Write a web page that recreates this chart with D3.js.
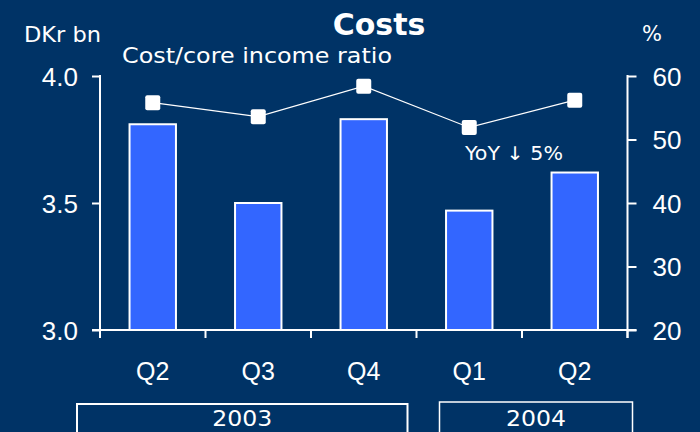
<!DOCTYPE html>
<html><head><meta charset="utf-8">
<script src="https://cdn.jsdelivr.net/npm/d3@7"></script>
<style>
html,body{margin:0;padding:0;background:#003366;}
svg{display:block;font-family:"DejaVu Sans",sans-serif;}
</style></head>
<body>
<svg id="c" width="700" height="432"></svg>
<script>
// ---- data ----
const quarters = ["Q2", "Q3", "Q4", "Q1", "Q2 "];
const quarterLabels = ["Q2", "Q3", "Q4", "Q1", "Q2"];
const costs = [3.81, 3.50, 3.83, 3.47, 3.62];          // DKr bn (bars)
const costIncomeRatio = [55.8, 53.6, 58.4, 51.9, 56.2]; // % (line)
const leftTicks = [3.0, 3.5, 4.0];
const rightTicks = [20, 30, 40, 50, 60];
const years = ["2003", "2004"];
const yearCounts = [3, 2];

(function () {
const W = 700, H = 432;
const bg = "#003366", barFill = "#3366ff", white = "#ffffff";
const svg = d3.select("#c");
svg.append("rect").attr("width", W).attr("height", H).attr("fill", bg);

const pL = 100, pR = 627.5, pT = 76, pB = 330;
const x = d3.scaleBand().domain(quarters).range([pL, pR]).paddingInner(0).paddingOuter(0);
const yL = d3.scaleLinear().domain([3.0, 4.0]).range([pB, pT]);
const yR = d3.scaleLinear().domain([20, 60]).range([pB, pT]);

// bars
const bw = x.bandwidth() * 0.44;
svg.append("g").selectAll("rect").data(costs).join("rect")
  .attr("x", (d, i) => x(quarters[i]) + (x.bandwidth() - bw) / 2)
  .attr("y", d => yL(d))
  .attr("width", bw)
  .attr("height", d => yL(3.0) - yL(d))
  .attr("fill", barFill).attr("stroke", white).attr("stroke-width", 2);

// left axis
const gL = svg.append("g").attr("transform", `translate(${pL},0)`)
  .call(d3.axisLeft(yL).tickValues(leftTicks).tickFormat(d3.format(".1f")).tickSize(8).tickPadding(14));
gL.select(".domain").remove();
gL.selectAll("line").attr("stroke", white).attr("stroke-width", 2);
gL.selectAll("text").attr("fill", white).attr("font-size", 26).attr("dy", "0.36em");
svg.append("line").attr("x1", pL).attr("x2", pL).attr("y1", yL(4.0) - 1).attr("y2", pB + 8)
  .attr("stroke", white).attr("stroke-width", 2);

// right axis
const gR = svg.append("g").attr("transform", `translate(${pR},0)`)
  .call(d3.axisRight(yR).tickValues(rightTicks).tickSize(9).tickPadding(16));
gR.select(".domain").remove();
gR.selectAll("line").attr("stroke", white).attr("stroke-width", 2);
gR.selectAll("text").attr("fill", white).attr("font-size", 26).attr("dy", "0.36em");
svg.append("line").attr("x1", pR).attr("x2", pR).attr("y1", yR(60) - 1).attr("y2", pB + 8)
  .attr("stroke", white).attr("stroke-width", 2);

// bottom axis
svg.append("line").attr("x1", pL - 8).attr("x2", pR + 9).attr("y1", pB).attr("y2", pB)
  .attr("stroke", white).attr("stroke-width", 2);
const bounds = quarters.map(q => x(q)).concat([x(quarters[quarters.length - 1]) + x.step()]);
svg.append("g").selectAll("line").data(bounds).join("line")
  .attr("x1", d => d).attr("x2", d => d).attr("y1", pB).attr("y2", pB + 8)
  .attr("stroke", white).attr("stroke-width", 2);
const gB = svg.append("g").attr("transform", `translate(0,${pB})`)
  .call(d3.axisBottom(x).tickSize(0).tickPadding(32).tickFormat((d, i) => quarterLabels[i]));
gB.select(".domain").remove();
gB.selectAll("text").attr("fill", white).attr("font-size", 25);

// line + markers
const line = d3.line().x((d, i) => x(quarters[i]) + x.bandwidth() / 2).y(d => yR(d));
svg.append("path").datum(costIncomeRatio).attr("d", line)
  .attr("fill", "none").attr("stroke", white).attr("stroke-width", 1.2);
const ms = 15;
svg.append("g").selectAll("rect").data(costIncomeRatio).join("rect")
  .attr("x", (d, i) => x(quarters[i]) + x.bandwidth() / 2 - ms / 2)
  .attr("y", d => yR(d) - ms / 2)
  .attr("width", ms).attr("height", ms).attr("rx", 2)
  .attr("fill", white);

// year boxes
const yearOffsets = [[-23, -9], [23, 5]];
let idx = 0;
years.forEach((yr, k) => {
  const first = quarters[idx], last = quarters[idx + yearCounts[k] - 1];
  const x0 = x(first) + yearOffsets[k][0];
  const x1 = x(last) + x.step() + yearOffsets[k][1];
  const y0 = k === 0 ? 404 : 402;
  svg.append("rect").attr("x", x0).attr("y", y0).attr("width", x1 - x0).attr("height", 40)
    .attr("fill", "none").attr("stroke", white).attr("stroke-width", k === 0 ? 2 : 1.5);
  svg.append("text").attr("x", (x0 + x1) / 2).attr("y", 426).attr("text-anchor", "middle")
    .attr("fill", white).attr("font-size", 21)
    .attr("textLength", 60).attr("lengthAdjust", "spacingAndGlyphs").text(yr);
  idx += yearCounts[k];
});

// titles & annotations
svg.append("text").attr("x", 379).attr("y", 35).attr("text-anchor", "middle")
  .attr("fill", white).attr("font-size", 30).attr("font-weight", "bold").text("Costs");
svg.append("text").attr("x", 24).attr("y", 42).attr("fill", white).attr("font-size", 21)
  .attr("textLength", 77).attr("lengthAdjust", "spacingAndGlyphs").text("DKr bn");
svg.append("text").attr("x", 652).attr("y", 41).attr("text-anchor", "middle").attr("fill", white).attr("font-size", 21).text("%");
svg.append("text").attr("x", 122).attr("y", 63).attr("fill", white).attr("font-size", 21)
  .attr("textLength", 270).attr("lengthAdjust", "spacingAndGlyphs").text("Cost/core income ratio");
svg.append("text").attr("x", 465).attr("y", 160).attr("fill", white).attr("font-size", 19)
  .attr("textLength", 98).attr("lengthAdjust", "spacingAndGlyphs").text("YoY ↓ 5%");
})();
</script>
</body></html>
